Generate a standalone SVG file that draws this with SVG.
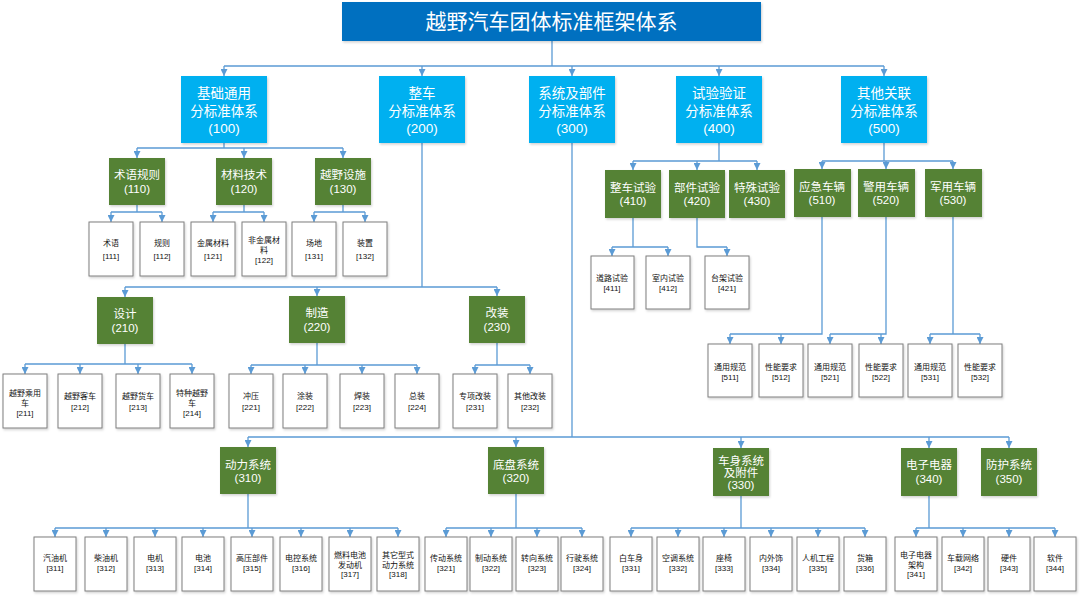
<svg xmlns="http://www.w3.org/2000/svg" width="1080" height="597" viewBox="0 0 1080 597">
<style>
text{font-family:"Liberation Sans","Noto Sans CJK SC",sans-serif;text-anchor:middle}
.title{fill:#fff;font-size:21px;font-family:"Noto Sans CJK SC",sans-serif}
.l1 rect{fill:#00B0F0}
.l1 text{fill:#fff;font-size:13.5px}
.l2 rect{fill:#548235}
.l2 text{fill:#fff;font-size:11.5px}
.l3 rect{fill:#fff;stroke:#7F7F7F;stroke-width:1}
.l3 text{fill:#111;font-size:8px}
rect{filter:url(#sh)}
.c path{fill:none;stroke:#5B9BD5;stroke-width:1.3}
.c .a{marker-end:url(#ar)}
</style>
<defs>
<filter id="sh" x="-10%" y="-10%" width="130%" height="130%">
<feDropShadow dx="1" dy="1.5" stdDeviation="1" flood-color="#000" flood-opacity="0.18"/>
</filter>
<marker id="ar" markerUnits="userSpaceOnUse" markerWidth="8" markerHeight="7" refX="7" refY="3.5" orient="auto">
<path d="M0,0 L7,3.5 L0,7 z" fill="#5B9BD5"/>
</marker>
</defs>
<rect width="1080" height="597" fill="#fff" style="filter:none"/>

<g class="c" id="connectors">
<path d="M552,41 V66 M224,66 H884"/>
<path class="a" d="M224,66 V76"/><path class="a" d="M422,66 V76"/><path class="a" d="M572,66 V76"/><path class="a" d="M719,66 V76"/><path class="a" d="M884,66 V76"/>
<path d="M224,143 V148 M137,148 H343"/>
<path class="a" d="M137,148 V158"/><path class="a" d="M244,148 V158"/><path class="a" d="M343,148 V158"/>
<path d="M137,205 V212 M111,212 H162 M244,205 V212 M213,212 H264 M343,205 V212 M314,212 H365"/>
<path class="a" d="M111,212 V222"/><path class="a" d="M162,212 V222"/><path class="a" d="M213,212 V222"/><path class="a" d="M264,212 V222"/><path class="a" d="M314,212 V222"/><path class="a" d="M365,212 V222"/>
<path d="M422,143 V287 M125,287 H497"/>
<path class="a" d="M125,287 V297"/><path class="a" d="M317,287 V296"/><path class="a" d="M497,287 V296"/>
<path d="M125,344 V364 M25,364 H192 M317,343 V365 M251,365 H417 M497,343 V365 M475,365 H530"/>
<path class="a" d="M25,364 V374"/><path class="a" d="M80,364 V374"/><path class="a" d="M138,364 V374"/><path class="a" d="M192,364 V374"/>
<path class="a" d="M251,365 V374"/><path class="a" d="M305,365 V374"/><path class="a" d="M362,365 V374"/><path class="a" d="M417,365 V374"/>
<path class="a" d="M475,365 V374"/><path class="a" d="M530,365 V374"/>
<path d="M719,143 V161 M633,161 H757"/>
<path class="a" d="M633,161 V170"/><path class="a" d="M697,161 V170"/><path class="a" d="M757,161 V170"/>
<path d="M633,218 V247 M612,247 H668 M697,218 V247 H727"/>
<path class="a" d="M612,247 V256"/><path class="a" d="M668,247 V256"/><path class="a" d="M727,247 V256"/>
<path d="M884,143 V161 M822,161 H953"/>
<path class="a" d="M822,161 V169"/><path class="a" d="M886,161 V169"/><path class="a" d="M953,161 V169"/>
<path d="M822,217 V334 H730 M886,217 V334 H830 M953,217 V334 M930,334 H980"/>
<path class="a" d="M730,334 V344"/><path class="a" d="M781,334 V344"/><path class="a" d="M830,334 V344"/><path class="a" d="M881,334 V344"/><path class="a" d="M930,334 V344"/><path class="a" d="M980,334 V344"/>
<path d="M572,143 V437 M248,437 H1009"/>
<path class="a" d="M248,437 V447"/><path class="a" d="M516,437 V447"/><path class="a" d="M741,437 V448"/><path class="a" d="M929,437 V448"/><path class="a" d="M1009,437 V448"/>
<path d="M248,494 V528 M55,528 H398 M516,494 V528 M446,528 H582 M741,496 V528 M631,528 H865 M929,496 V528 M916,528 H1055"/>
<path class="a" d="M55,528 V537"/><path class="a" d="M106,528 V537"/><path class="a" d="M155,528 V537"/><path class="a" d="M203,528 V537"/><path class="a" d="M252,528 V537"/><path class="a" d="M301,528 V537"/><path class="a" d="M350,528 V537"/><path class="a" d="M398,528 V537"/>
<path class="a" d="M446,528 V537"/><path class="a" d="M491,528 V537"/><path class="a" d="M537,528 V537"/><path class="a" d="M582,528 V537"/>
<path class="a" d="M631,528 V537"/><path class="a" d="M678,528 V537"/><path class="a" d="M724,528 V537"/><path class="a" d="M771,528 V537"/><path class="a" d="M818,528 V537"/><path class="a" d="M865,528 V537"/>
<path class="a" d="M916,528 V537"/><path class="a" d="M963,528 V537"/><path class="a" d="M1009,528 V537"/><path class="a" d="M1055,528 V537"/>
</g>

<g id="root"><rect x="342" y="2" width="419" height="39" fill="#0070C0"/><text class="title" x="551.5" y="29">越野汽车团体标准框架体系</text></g>

<g class="l1" id="n100"><rect x="181" y="76" width="86" height="67"/><text x="224" y="98">基础通用<tspan x="224" dy="18">分标准体系</tspan><tspan x="224" dy="17">(100)</tspan></text></g>
<g class="l1" id="n200"><rect x="379" y="76" width="86" height="67"/><text x="422" y="98">整车<tspan x="422" dy="18">分标准体系</tspan><tspan x="422" dy="17">(200)</tspan></text></g>
<g class="l1" id="n300"><rect x="529" y="76" width="86" height="67"/><text x="572" y="98">系统及部件<tspan x="572" dy="18">分标准体系</tspan><tspan x="572" dy="17">(300)</tspan></text></g>
<g class="l1" id="n400"><rect x="676" y="76" width="86" height="67"/><text x="719" y="98">试验验证<tspan x="719" dy="18">分标准体系</tspan><tspan x="719" dy="17">(400)</tspan></text></g>
<g class="l1" id="n500"><rect x="841" y="76" width="86" height="67"/><text x="884" y="98">其他关联<tspan x="884" dy="18">分标准体系</tspan><tspan x="884" dy="17">(500)</tspan></text></g>

<g class="l2" id="n110"><rect x="109" y="158" width="56" height="47"/><text x="137" y="179">术语规则<tspan x="137" dy="14">(110)</tspan></text></g>
<g class="l2" id="n120"><rect x="216" y="158" width="56" height="47"/><text x="244" y="179">材料技术<tspan x="244" dy="14">(120)</tspan></text></g>
<g class="l2" id="n130"><rect x="315" y="158" width="56" height="47"/><text x="343" y="179">越野设施<tspan x="343" dy="14">(130)</tspan></text></g>
<g class="l2" id="n210"><rect x="97" y="297" width="56" height="47"/><text x="125" y="318">设计<tspan x="125" dy="14">(210)</tspan></text></g>
<g class="l2" id="n220"><rect x="289" y="296" width="56" height="47"/><text x="317" y="317">制造<tspan x="317" dy="14">(220)</tspan></text></g>
<g class="l2" id="n230"><rect x="469" y="296" width="56" height="47"/><text x="497" y="317">改装<tspan x="497" dy="14">(230)</tspan></text></g>
<g class="l2" id="n410"><rect x="605" y="170" width="56" height="48"/><text x="633" y="192">整车试验<tspan x="633" dy="13">(410)</tspan></text></g>
<g class="l2" id="n420"><rect x="669" y="170" width="56" height="48"/><text x="697" y="192">部件试验<tspan x="697" dy="13">(420)</tspan></text></g>
<g class="l2" id="n430"><rect x="729" y="170" width="56" height="48"/><text x="757" y="192">特殊试验<tspan x="757" dy="13">(430)</tspan></text></g>
<g class="l2" id="n510"><rect x="794" y="169" width="57" height="48"/><text x="822" y="191">应急车辆<tspan x="822" dy="13">(510)</tspan></text></g>
<g class="l2" id="n520"><rect x="858" y="169" width="57" height="48"/><text x="886" y="191">警用车辆<tspan x="886" dy="13">(520)</tspan></text></g>
<g class="l2" id="n530"><rect x="925" y="169" width="57" height="48"/><text x="953" y="191">军用车辆<tspan x="953" dy="13">(530)</tspan></text></g>
<g class="l2" id="n310"><rect x="220" y="447" width="56" height="47"/><text x="248" y="469">动力系统<tspan x="248" dy="13">(310)</tspan></text></g>
<g class="l2" id="n320"><rect x="488" y="447" width="56" height="47"/><text x="516" y="469">底盘系统<tspan x="516" dy="13">(320)</tspan></text></g>
<g class="l2" id="n330"><rect x="713" y="448" width="56" height="48"/><text x="741" y="465">车身系统<tspan x="741" dy="12">及附件</tspan><tspan x="741" dy="12">(330)</tspan></text></g>
<g class="l2" id="n340"><rect x="901" y="448" width="56" height="48"/><text x="929" y="469">电子电器<tspan x="929" dy="14">(340)</tspan></text></g>
<g class="l2" id="n350"><rect x="981" y="448" width="56" height="48"/><text x="1009" y="469">防护系统<tspan x="1009" dy="14">(350)</tspan></text></g>

<g class="l3" id="n111"><rect x="89" y="222" width="44" height="54"/><text x="111" y="246">术语<tspan x="111" dy="13">[111]</tspan></text></g>
<g class="l3" id="n112"><rect x="140" y="222" width="44" height="54"/><text x="162" y="246">规则<tspan x="162" dy="13">[112]</tspan></text></g>
<g class="l3" id="n121"><rect x="191" y="222" width="44" height="54"/><text x="213" y="246">金属材料<tspan x="213" dy="13">[121]</tspan></text></g>
<g class="l3" id="n122"><rect x="242" y="222" width="44" height="54"/><text x="264" y="243">非金属材<tspan x="264" dy="10">料</tspan><tspan x="264" dy="10">[122]</tspan></text></g>
<g class="l3" id="n131"><rect x="292" y="222" width="44" height="54"/><text x="314" y="246">场地<tspan x="314" dy="13">[131]</tspan></text></g>
<g class="l3" id="n132"><rect x="343" y="222" width="44" height="54"/><text x="365" y="246">装置<tspan x="365" dy="13">[132]</tspan></text></g>

<g class="l3" id="n211"><rect x="3" y="374" width="44" height="54"/><text x="25" y="396">越野乘用<tspan x="25" dy="10">车</tspan><tspan x="25" dy="10">[211]</tspan></text></g>
<g class="l3" id="n212"><rect x="58" y="374" width="44" height="54"/><text x="80" y="399">越野客车<tspan x="80" dy="11">[212]</tspan></text></g>
<g class="l3" id="n213"><rect x="116" y="374" width="44" height="54"/><text x="138" y="399">越野货车<tspan x="138" dy="11">[213]</tspan></text></g>
<g class="l3" id="n214"><rect x="170" y="374" width="44" height="54"/><text x="192" y="396">特种越野<tspan x="192" dy="10">车</tspan><tspan x="192" dy="10">[214]</tspan></text></g>
<g class="l3" id="n221"><rect x="229" y="374" width="44" height="54"/><text x="251" y="399">冲压<tspan x="251" dy="11">[221]</tspan></text></g>
<g class="l3" id="n222"><rect x="283" y="374" width="44" height="54"/><text x="305" y="399">涂装<tspan x="305" dy="11">[222]</tspan></text></g>
<g class="l3" id="n223"><rect x="340" y="374" width="44" height="54"/><text x="362" y="399">焊装<tspan x="362" dy="11">[223]</tspan></text></g>
<g class="l3" id="n224"><rect x="395" y="374" width="44" height="54"/><text x="417" y="399">总装<tspan x="417" dy="11">[224]</tspan></text></g>
<g class="l3" id="n231"><rect x="453" y="374" width="44" height="54"/><text x="475" y="399">专项改装<tspan x="475" dy="11">[231]</tspan></text></g>
<g class="l3" id="n232"><rect x="508" y="374" width="44" height="54"/><text x="530" y="399">其他改装<tspan x="530" dy="11">[232]</tspan></text></g>

<g class="l3" id="n411"><rect x="591" y="256" width="43" height="53"/><text x="612" y="281">道路试验<tspan x="612" dy="10">[411]</tspan></text></g>
<g class="l3" id="n412"><rect x="646" y="256" width="44" height="53"/><text x="668" y="281">室内试验<tspan x="668" dy="10">[412]</tspan></text></g>
<g class="l3" id="n421"><rect x="705" y="256" width="44" height="53"/><text x="727" y="281">台架试验<tspan x="727" dy="10">[421]</tspan></text></g>

<g class="l3" id="n511"><rect x="708" y="344" width="44" height="53"/><text x="730" y="370">通用规范<tspan x="730" dy="10">[511]</tspan></text></g>
<g class="l3" id="n512"><rect x="759" y="344" width="44" height="53"/><text x="781" y="370">性能要求<tspan x="781" dy="10">[512]</tspan></text></g>
<g class="l3" id="n521"><rect x="808" y="344" width="44" height="53"/><text x="830" y="370">通用规范<tspan x="830" dy="10">[521]</tspan></text></g>
<g class="l3" id="n522"><rect x="859" y="344" width="44" height="53"/><text x="881" y="370">性能要求<tspan x="881" dy="10">[522]</tspan></text></g>
<g class="l3" id="n531"><rect x="908" y="344" width="44" height="53"/><text x="930" y="370">通用规范<tspan x="930" dy="10">[531]</tspan></text></g>
<g class="l3" id="n532"><rect x="958" y="344" width="44" height="53"/><text x="980" y="370">性能要求<tspan x="980" dy="10">[532]</tspan></text></g>

<g class="l3" id="n311"><rect x="34" y="537" width="42" height="54"/><text x="55" y="561">汽油机<tspan x="55" dy="10">[311]</tspan></text></g>
<g class="l3" id="n312"><rect x="85" y="537" width="42" height="54"/><text x="106" y="561">柴油机<tspan x="106" dy="10">[312]</tspan></text></g>
<g class="l3" id="n313"><rect x="134" y="537" width="42" height="54"/><text x="155" y="561">电机<tspan x="155" dy="10">[313]</tspan></text></g>
<g class="l3" id="n314"><rect x="182" y="537" width="42" height="54"/><text x="203" y="561">电池<tspan x="203" dy="10">[314]</tspan></text></g>
<g class="l3" id="n315"><rect x="231" y="537" width="42" height="54"/><text x="252" y="561">高压部件<tspan x="252" dy="10">[315]</tspan></text></g>
<g class="l3" id="n316"><rect x="280" y="537" width="42" height="54"/><text x="301" y="561">电控系统<tspan x="301" dy="10">[316]</tspan></text></g>
<g class="l3" id="n317"><rect x="329" y="537" width="42" height="54"/><text x="350" y="558">燃料电池<tspan x="350" dy="10">发动机</tspan><tspan x="350" dy="9">[317]</tspan></text></g>
<g class="l3" id="n318"><rect x="377" y="537" width="42" height="54"/><text x="398" y="558">其它型式<tspan x="398" dy="10">动力系统</tspan><tspan x="398" dy="9">[318]</tspan></text></g>
<g class="l3" id="n321"><rect x="425" y="537" width="42" height="54"/><text x="446" y="561">传动系统<tspan x="446" dy="10">[321]</tspan></text></g>
<g class="l3" id="n322"><rect x="470" y="537" width="42" height="54"/><text x="491" y="561">制动系统<tspan x="491" dy="10">[322]</tspan></text></g>
<g class="l3" id="n323"><rect x="516" y="537" width="42" height="54"/><text x="537" y="561">转向系统<tspan x="537" dy="10">[323]</tspan></text></g>
<g class="l3" id="n324"><rect x="561" y="537" width="42" height="54"/><text x="582" y="561">行驶系统<tspan x="582" dy="10">[324]</tspan></text></g>
<g class="l3" id="n331"><rect x="610" y="537" width="42" height="54"/><text x="631" y="561">白车身<tspan x="631" dy="10">[331]</tspan></text></g>
<g class="l3" id="n332"><rect x="657" y="537" width="42" height="54"/><text x="678" y="561">空调系统<tspan x="678" dy="10">[332]</tspan></text></g>
<g class="l3" id="n333"><rect x="703" y="537" width="42" height="54"/><text x="724" y="561">座椅<tspan x="724" dy="10">[333]</tspan></text></g>
<g class="l3" id="n334"><rect x="750" y="537" width="42" height="54"/><text x="771" y="561">内外饰<tspan x="771" dy="10">[334]</tspan></text></g>
<g class="l3" id="n335"><rect x="797" y="537" width="42" height="54"/><text x="818" y="561">人机工程<tspan x="818" dy="10">[335]</tspan></text></g>
<g class="l3" id="n336"><rect x="844" y="537" width="42" height="54"/><text x="865" y="561">货箱<tspan x="865" dy="10">[336]</tspan></text></g>
<g class="l3" id="n341"><rect x="895" y="537" width="42" height="54"/><text x="916" y="558">电子电器<tspan x="916" dy="10">架构</tspan><tspan x="916" dy="9">[341]</tspan></text></g>
<g class="l3" id="n342"><rect x="942" y="537" width="42" height="54"/><text x="963" y="561">车载网络<tspan x="963" dy="10">[342]</tspan></text></g>
<g class="l3" id="n343"><rect x="988" y="537" width="42" height="54"/><text x="1009" y="561">硬件<tspan x="1009" dy="10">[343]</tspan></text></g>
<g class="l3" id="n344"><rect x="1034" y="537" width="42" height="54"/><text x="1055" y="561">软件<tspan x="1055" dy="10">[344]</tspan></text></g>
</svg>
